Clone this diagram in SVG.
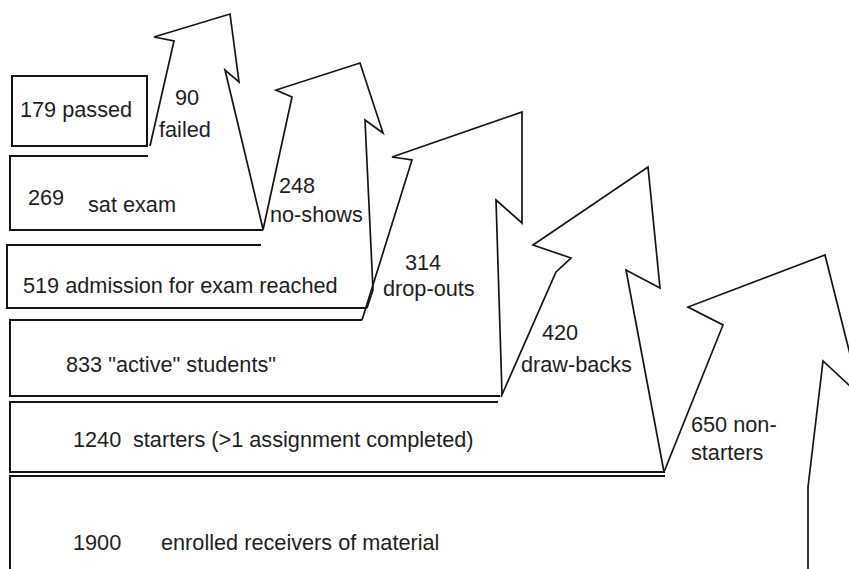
<svg xmlns="http://www.w3.org/2000/svg" width="849" height="569" viewBox="0 0 849 569">
<style>
.box{fill:none;stroke:#141414;stroke-width:2;stroke-linejoin:miter}
.arr{fill:none;stroke:#141414;stroke-width:1.7;stroke-linejoin:miter}
text{font-family:"Liberation Sans",Arial,sans-serif;font-size:21.7px;fill:#1e1e1e}
</style>
<rect width="849" height="569" fill="#ffffff"/>
<g id="node-passed">
<rect class="box" x="12" y="76" width="135" height="70"/>
<text x="20" y="117">179 passed</text>
</g>
<g id="node-sat-exam">
<path class="box" d="M148,156 H10 V230 H263"/>
<text x="28" y="205">269</text>
<text x="88" y="212">sat exam</text>
</g>
<g id="node-admission">
<path class="box" d="M261,245 H7 V308 H367"/>
<text x="23" y="293">519 admission for exam reached</text>
</g>
<g id="node-active">
<path class="box" d="M362,320 H10 V396 H500"/>
<text x="66" y="372">833 "active" students"</text>
</g>
<g id="node-starters">
<path class="box" d="M498,402 H10 V472 H665"/>
<text y="447"><tspan x="73">1240</tspan><tspan x="133">starters (&gt;1 assignment completed)</tspan></text>
</g>
<g id="node-enrolled">
<path class="box" d="M665,476 H10 V569"/>
<text y="550"><tspan x="73">1900</tspan><tspan x="161">enrolled receivers of material</tspan></text>
</g>
<g id="connectors">
<polyline id="arrow-failed" class="arr" points="150,146 174,41 154,37 230,14 239,82 225,70 263,229"/>
<polyline id="arrow-noshows" class="arr" points="263,230 292,97 276,90 360,63 383,133 365,120 373,290 367,308"/>
<polyline id="arrow-dropouts" class="arr" points="362,320 412,160 392,157 522,112 522,223 496,200 502,394"/>
<polyline id="arrow-drawbacks" class="arr" points="501,397 556,272 571,258 533,245 648,167 660,288 626,270 664,472"/>
<polyline id="arrow-nonstarters" class="arr" points="664,472 723,325 688,307 825,255 862,402"/>
<polyline id="arrow-nonstarters-b" class="arr" points="880,414 823,361 808,487 808,569"/>
</g>
<g id="label-failed">
<text x="175" y="105">90</text>
<text x="159" y="137">failed</text>
</g>
<g id="label-noshows">
<text x="279" y="193">248</text>
<text x="270" y="222">no-shows</text>
</g>
<g id="label-dropouts">
<text x="405" y="270">314</text>
<text x="383" y="296">drop-outs</text>
</g>
<g id="label-drawbacks">
<text x="542" y="340">420</text>
<text x="521" y="372">draw-backs</text>
</g>
<g id="label-nonstarters">
<text x="691" y="432">650 non-</text>
<text x="691" y="460">starters</text>
</g>
</svg>
